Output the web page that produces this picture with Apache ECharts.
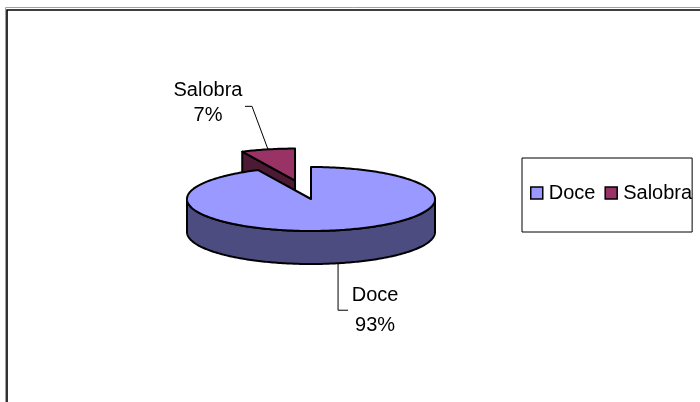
<!DOCTYPE html>
<html>
<head>
<meta charset="utf-8">
<script src="https://cdn.jsdelivr.net/npm/echarts@6/dist/echarts.min.js"></script>
<style>html,body{margin:0;padding:0;background:#fff}#main{width:700px;height:402px}</style>
</head>
<body>
<div id="main"></div>
<script>
var categories = ['Doce', 'Salobra'];
var values = [93, 7];
var topColors = ['#9999FF', '#993366'];
var sideColors = ['#4C4C80', '#4D1A33'];
var explode = [0, 0.59];

// pie geometry (3d look, drawn as an ellipse)
var cx = 311, cy = 199, rx = 124, ry = 32, depth = 33;
var font = '"Liberation Sans", Arial, sans-serif';
var total = values.reduce(function (a, b) { return a + b; }, 0);

// leader line / label offsets, relative to the anchor point of each slice
var labelCfg = [
  {path: [[0, 47], [10, 47]], text: [37, 47], lh: 30},
  {path: [[-16, -43], [-23, -43]], text: [-60, -46], lh: 25}
];

function pt(ox, oy, t, dy) {
  return [ox + rx * Math.sin(t), oy - ry * Math.cos(t) + (dy || 0)];
}
function arc(ox, oy, a, b, dy) {
  var pts = [];
  var n = Math.max(2, Math.ceil(Math.abs(b - a) / (Math.PI / 180)));
  for (var k = 0; k <= n; k++) pts.push(pt(ox, oy, a + (b - a) * k / n, dy));
  return pts;
}

function renderSlice(params, api) {
  var i = api.value(0), v = api.value(1);
  var cum = 0;
  for (var j = 0; j < i; j++) cum += values[j];
  var a = Math.PI * 2 * cum / total;
  var b = a + Math.PI * 2 * v / total;
  var m = (a + b) / 2;
  var e = explode[i];
  var ox = cx + e * rx * Math.sin(m), oy = cy - e * ry * Math.cos(m);
  var line = {stroke: '#000', lineWidth: 2, lineJoin: 'round'};
  var kids = [];

  function face(t) {
    kids.push({type: 'polygon', shape: {points: [[ox, oy], pt(ox, oy, t), pt(ox, oy, t, depth), [ox, oy + depth]]},
      style: Object.assign({fill: sideColors[i]}, line)});
  }
  if (Math.cos(a - Math.PI / 2) < -0.01) face(a);
  if (Math.cos(b + Math.PI / 2) < -0.01) face(b);

  var lo = Math.max(a, Math.PI / 2), hi = Math.min(b, Math.PI * 1.5);
  if (hi > lo) {
    kids.push({type: 'polygon', shape: {points: arc(ox, oy, lo, hi, 0).concat(arc(ox, oy, hi, lo, depth))},
      style: Object.assign({fill: sideColors[i]}, line)});
  }
  kids.push({type: 'polygon', shape: {points: [[ox, oy]].concat(arc(ox, oy, a, b, 0))},
    style: Object.assign({fill: topColors[i]}, line)});

  // label with leader line
  var anc = pt(ox, oy, m, Math.cos(m) < 0 ? depth : 0);
  var cfg = labelCfg[i];
  var pts = [anc].concat(cfg.path.map(function (p) { return [anc[0] + p[0], anc[1] + p[1]]; }));
  kids.push({type: 'polyline', shape: {points: pts}, style: {stroke: '#000', lineWidth: 1, fill: null}});
  kids.push({type: 'text', x: anc[0] + cfg.text[0], y: anc[1] + cfg.text[1],
    style: {text: categories[i] + '\n' + Math.round(v / total * 100) + '%', fill: '#000',
      font: '20px ' + font, align: 'center', verticalAlign: 'middle', lineHeight: cfg.lh}});
  return {type: 'group', children: kids};
}

var chart = echarts.init(document.getElementById('main'));
chart.setOption({
  animation: false,
  backgroundColor: '#fff',
  graphic: [
    {type: 'rect', shape: {x: 5.5, y: 7.5, width: 720, height: 420}, style: {fill: 'none', stroke: '#a0a0a0', lineWidth: 1}},
    {type: 'rect', shape: {x: 7, y: 10, width: 720, height: 420}, style: {fill: 'none', stroke: '#000', lineWidth: 1.6}}
  ],
  legend: {
    data: categories,
    left: 522, top: 158,
    orient: 'horizontal',
    icon: 'rect', itemWidth: 12, itemHeight: 12, itemGap: 9,
    padding: [25, 0, 29, 8],
    borderColor: '#000', borderWidth: 1,
    itemStyle: {borderColor: '#000', borderWidth: 1.5},
    textStyle: {fontSize: 20, fontFamily: font, color: '#000', padding: [0, 0, 0, 1]}
  },
  series: categories.map(function (name, i) {
    return {
      type: 'custom', name: name, coordinateSystem: 'none',
      z: i === 0 ? 3 : 2,
      itemStyle: {color: topColors[i]},
      data: [[i, values[i]]],
      renderItem: renderSlice
    };
  })
});
</script>
</body>
</html>
